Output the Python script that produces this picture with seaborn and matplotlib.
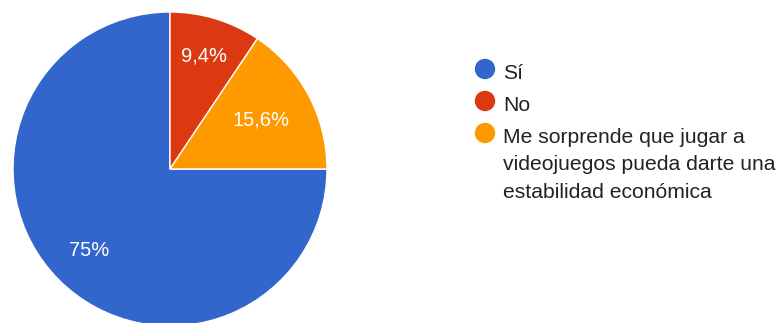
import numpy as np
import matplotlib
matplotlib.use("Agg")
import matplotlib.pyplot as plt
from matplotlib.patches import Ellipse
import seaborn as sns

# Survey answers and their shares (%)
categories = ["Sí", "No", "Me sorprende que jugar a\nvideojuegos pueda darte una\nestabilidad económica"]
values = [75, 9.4, 15.6]
colors = ["#3366cc", "#dc3912", "#ff9900"]
label_dist = [0.73, 0.75, 0.66]

sns.set_theme(style="white")
plt.rcParams["font.family"] = ["Liberation Sans", "DejaVu Sans"]

W, H = 779, 323
fig = plt.figure(figsize=(W / 100, H / 100), dpi=100)
fig.patch.set_facecolor("white")

# pie axes: centre (170, 169) px, radius 157 px
cx, cy, r = 170, 169, 157
ax = fig.add_axes([(cx - r) / W, (H - cy - r) / H, 2 * r / W, 2 * r / H])

wedges, _ = ax.pie(values, colors=colors, startangle=0, counterclock=False,
                   radius=1.0, wedgeprops=dict(edgecolor="white", linewidth=1.0))
ax.set_xlim(-1, 1)
ax.set_ylim(-1, 1)
ax.set_aspect("auto")
ax.axis("off")


def fmt(v):
    return f"{v:g}".replace(".", ",") + "%"


for w, v, d in zip(wedges, values, label_dist):
    mid = np.deg2rad((w.theta1 + w.theta2) / 2)
    ax.text(d * np.cos(mid), d * np.sin(mid), fmt(v), ha="center", va="center",
            color="white", fontsize=14.5)

# legend: one dot per answer, text wrapped over several lines
lx = 485          # dot centre x (px)
tx = 503          # text start x (px)
base0 = 79        # first baseline (px)
row_gap = 32
wrap_gap = 27.5
base = base0
for cat, col in zip(categories, colors):
    fig.add_artist(Ellipse((lx / W, 1 - (base - 10) / H), 19 / W, 19 / H,
                           transform=fig.transFigure, color=col))
    lines = cat.split("\n")
    for i, line in enumerate(lines):
        fig.text(tx / W, 1 - (base + i * wrap_gap) / H, line, ha="left",
                 va="baseline", fontsize=15.2, color="#222222")
    base += (len(lines) - 1) * wrap_gap + row_gap

fig.savefig("out.png", dpi=100, facecolor="white")
